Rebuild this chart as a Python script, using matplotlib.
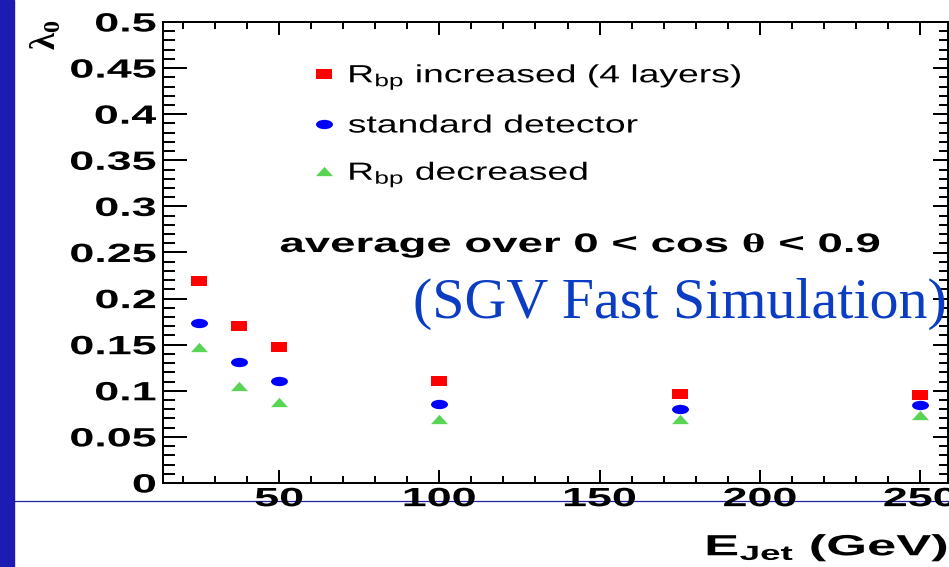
import matplotlib
matplotlib.use('Agg')
import matplotlib.pyplot as plt
import matplotlib.patheffects as pe
from matplotlib.path import Path
from matplotlib.transforms import Affine2D
from matplotlib.ticker import MultipleLocator
from matplotlib.lines import Line2D
from matplotlib.patches import Rectangle

# jet energies (GeV) and lambda_0 for the three vertex-detector layouts
e_jet = [25, 37.5, 50, 100, 175, 250]
lam_rbp_increased = [0.219, 0.170, 0.147, 0.111, 0.0965, 0.0955]
lam_standard = [0.174, 0.131, 0.111, 0.0857, 0.0803, 0.0845]
lam_rbp_decreased = [0.148, 0.1056, 0.0875, 0.0694, 0.0690, 0.0737]

labels = ['R$_{bp}$ increased (4 layers)', 'standard detector', 'R$_{bp}$ decreased']
colors = ['#ff0000', '#0000ff', '#59d454']

x_ticks_major = 50
x_ticks_minor = 10
y_ticks_major = 0.05
y_ticks_minor = 0.01


class Stretch(pe.AbstractPathEffect):
    """Draw a text path widened horizontally about its left/right edge or centre."""

    def __init__(self, sx, anchor='center'):
        super().__init__()
        self.sx = sx
        self.anchor = anchor

    def draw_path(self, renderer, gc, tpath, affine, rgbFace=None):
        ext = tpath.get_extents(affine)
        x0 = {'left': ext.x0, 'right': ext.x1,
              'center': 0.5 * (ext.x0 + ext.x1)}[self.anchor]
        affine = affine + Affine2D().translate(-x0, 0).scale(self.sx, 1).translate(x0, 0)
        renderer.draw_path(gc, tpath, affine, rgbFace)


plt.rcParams['font.family'] = ['Liberation Sans', 'DejaVu Sans']
plt.rcParams['font.weight'] = 'bold'
plt.rcParams['mathtext.default'] = 'regular'
plt.rcParams['mathtext.fontset'] = 'custom'
plt.rcParams['mathtext.rm'] = 'Liberation Serif'

BOLD_SX = 1.7
REG_SX = 1.5
LW = 1.44

# flattened marker shapes
square = Path([(-1, -0.55), (1, -0.55), (1, 0.55), (-1, 0.55), (-1, -0.55)], closed=True)
ellipse = Path.unit_circle().transformed(Affine2D().scale(1, 0.55))
triangle = Path([(-1, -0.55), (1, -0.55), (0, 0.55), (-1, -0.55)], closed=True)
markers = [square, ellipse, triangle]

W, H = 949, 567
fig = plt.figure(figsize=(W / 100, H / 100), dpi=100)
ax = fig.add_axes([163 / W, (H - 483) / H, (948 - 163) / W, (483 - 22) / H])
ax.set_facecolor('none')

series = [lam_rbp_increased, lam_standard, lam_rbp_decreased]
for vals, m, c, lab in zip(series, markers, colors, labels):
    ax.plot(e_jet, vals, ls='none', marker=m, ms=12.2, color=c, mew=0, label=lab)

ax.set_xlim(13.8, 258.7)
ax.set_ylim(0, 0.5)
ax.xaxis.set_major_locator(MultipleLocator(x_ticks_major))
ax.xaxis.set_minor_locator(MultipleLocator(x_ticks_minor))
ax.yaxis.set_major_locator(MultipleLocator(y_ticks_major))
ax.yaxis.set_minor_locator(MultipleLocator(y_ticks_minor))
ax.yaxis.set_major_formatter(plt.FuncFormatter(lambda v, p: f'{v:g}'))

ax.tick_params(which='both', direction='in', width=LW, top=False, right=False,
               labelsize=19)
ax.tick_params(axis='y', which='major', length=17.3, pad=5)
ax.tick_params(axis='y', which='minor', length=8.6)
ax.tick_params(axis='x', which='major', length=9.4, pad=3)
ax.tick_params(axis='x', which='minor', length=5)
for s in ax.spines.values():
    s.set_linewidth(LW)

top = ax.secondary_xaxis('top')
top.xaxis.set_major_locator(MultipleLocator(x_ticks_major))
top.xaxis.set_minor_locator(MultipleLocator(x_ticks_minor))
top.tick_params(which='both', direction='in', width=LW, labeltop=False)
top.tick_params(which='major', length=9.4)
top.tick_params(which='minor', length=5)
top.spines['top'].set_linewidth(LW)

right = ax.secondary_yaxis('right')
right.yaxis.set_major_locator(MultipleLocator(y_ticks_major))
right.yaxis.set_minor_locator(MultipleLocator(y_ticks_minor))
right.tick_params(which='both', direction='in', width=LW, labelright=False)
right.tick_params(which='major', length=10.8)
right.tick_params(which='minor', length=6.5)
right.spines['right'].set_linewidth(LW)

for t in ax.xaxis.get_major_ticks():
    t.label1.set_path_effects([Stretch(BOLD_SX, 'center')])
for t in ax.yaxis.get_major_ticks():
    t.label1.set_path_effects([Stretch(BOLD_SX, 'right')])

ax.set_xlabel('E$_{Jet}$ (GeV)', fontsize=21, fontweight='bold', loc='right',
              path_effects=[Stretch(1.8, 'right')])
ax.xaxis.set_label_coords(1.0, -0.105)

# y title rotated to read upwards, its box tucked against the top-left corner
ylab = ax.set_ylabel(r'$\mathrm{\lambda_0}$', fontsize=25, fontweight='normal')
ylab.set_rotation(90)
ylab.set_rotation_mode('default')
ylab.set_horizontalalignment('right')
ylab.set_verticalalignment('top')
ax.yaxis.set_label_coords(-0.127, 1.005)

ax.text(50.3, 0.2505, r'average over 0 < cos $\mathrm{\theta}$ < 0.9', fontsize=19.3,
        ha='left', va='baseline', path_effects=[Stretch(BOLD_SX, 'left')])
ax.text(91.8, 0.179, '(SGV Fast Simulation)', family='Liberation Serif',
        weight='normal', fontsize=41.8, color='#0a3cc4', ha='left', va='baseline',
        clip_on=False, zorder=5)

leg = ax.legend(loc='center left', bbox_to_anchor=(311.6 / W, 1 - 125.5 / H),
                bbox_transform=fig.transFigure, frameon=False,
                prop=dict(family='Liberation Sans', weight='normal', size=17.9),
                handlelength=1.0, handletextpad=0.47, labelspacing=0.88,
                borderpad=0, borderaxespad=0)
for t in leg.get_texts():
    t.set_path_effects([Stretch(REG_SX, 'left')])

# slide decoration: blue side band and thin rule under the plot
fig.add_artist(Rectangle((0, 0), 14 / W, 1, transform=fig.transFigure,
                         color='#1c1cb2', zorder=-2))
fig.add_artist(Line2D([14 / W, 1], [1 - 501 / H] * 2, transform=fig.transFigure,
                      color='#2020a0', lw=0.9, zorder=-1))

fig.savefig('out.png', dpi=100)
